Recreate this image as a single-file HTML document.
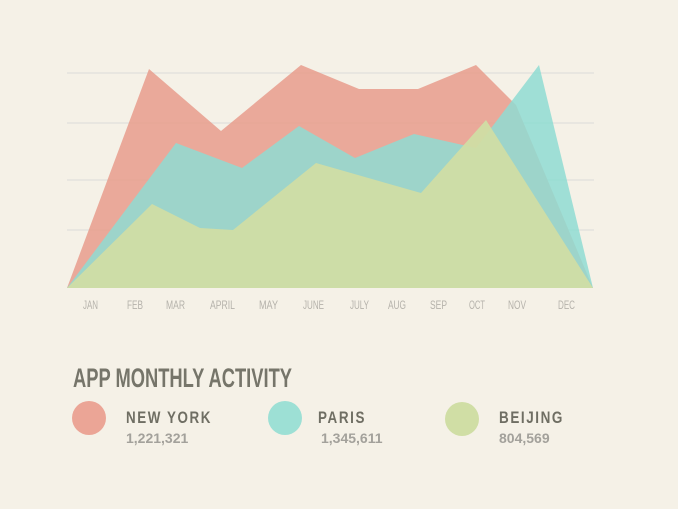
<!DOCTYPE html>
<html><head><style>
body{margin:0;width:678px;height:509px;background:#f5f1e7;overflow:hidden}
svg{position:absolute;left:0;top:0}
text{font-family:"Liberation Sans",sans-serif}
</style></head><body>
<svg width="678" height="509">
<g stroke="#e4e2de" stroke-width="1.5">
<line x1="67" y1="73" x2="594" y2="73"/><line x1="67" y1="123" x2="594" y2="123"/>
<line x1="67" y1="180" x2="594" y2="180"/><line x1="67" y1="230" x2="594" y2="230"/>
</g>
<polygon fill="#e89c8c" fill-opacity="0.85" points="67,288 149,69 221,131 301,65 359,89 418,89 476,65 516,105 593,288"/>
<polygon fill="#8fdcd2" fill-opacity="0.85" points="67,288 176,143 242,168 299,126 355,158 414,134 476,148 539,65 593,288"/>
<polygon fill="#d0dda4" fill-opacity="0.95" points="67,288 152,204 200,228 233,230 316,163 421,193 486,120 593,288"/>
<g fill="#b5b2ab" font-size="12" lengthAdjust="spacingAndGlyphs">
<text x="83" y="309" textLength="15" lengthAdjust="spacingAndGlyphs">JAN</text>
<text x="127" y="309" textLength="16" lengthAdjust="spacingAndGlyphs">FEB</text>
<text x="166" y="309" textLength="19" lengthAdjust="spacingAndGlyphs">MAR</text>
<text x="210" y="309" textLength="25" lengthAdjust="spacingAndGlyphs">APRIL</text>
<text x="259" y="309" textLength="19" lengthAdjust="spacingAndGlyphs">MAY</text>
<text x="303" y="309" textLength="21" lengthAdjust="spacingAndGlyphs">JUNE</text>
<text x="350" y="309" textLength="19" lengthAdjust="spacingAndGlyphs">JULY</text>
<text x="388" y="309" textLength="18" lengthAdjust="spacingAndGlyphs">AUG</text>
<text x="430" y="309" textLength="17" lengthAdjust="spacingAndGlyphs">SEP</text>
<text x="469" y="309" textLength="16" lengthAdjust="spacingAndGlyphs">OCT</text>
<text x="508" y="309" textLength="18" lengthAdjust="spacingAndGlyphs">NOV</text>
<text x="558" y="309" textLength="17" lengthAdjust="spacingAndGlyphs">DEC</text>
</g>
<text x="73" y="387" font-size="27" font-weight="bold" fill="#76756a" textLength="219" lengthAdjust="spacingAndGlyphs">APP MONTHLY ACTIVITY</text>
<circle cx="89" cy="418" r="17" fill="#eba596"/>
<circle cx="285" cy="418" r="17" fill="#9de0d5"/>
<circle cx="462" cy="419" r="17" fill="#d0dea5"/>
<g fill="#6f6e63" font-size="17" font-weight="bold" letter-spacing="2">
<text x="126" y="423" textLength="86" lengthAdjust="spacingAndGlyphs">NEW YORK</text>
<text x="318" y="423" textLength="48" lengthAdjust="spacingAndGlyphs">PARIS</text>
<text x="499" y="423" textLength="65" lengthAdjust="spacingAndGlyphs">BEIJING</text>
</g>
<g fill="#a3a19b" font-size="14" font-weight="bold">
<text x="126" y="443">1,221,321</text>
<text x="321" y="443">1,345,611</text>
<text x="499" y="443">804,569</text>
</g>
</svg>
</body></html>
